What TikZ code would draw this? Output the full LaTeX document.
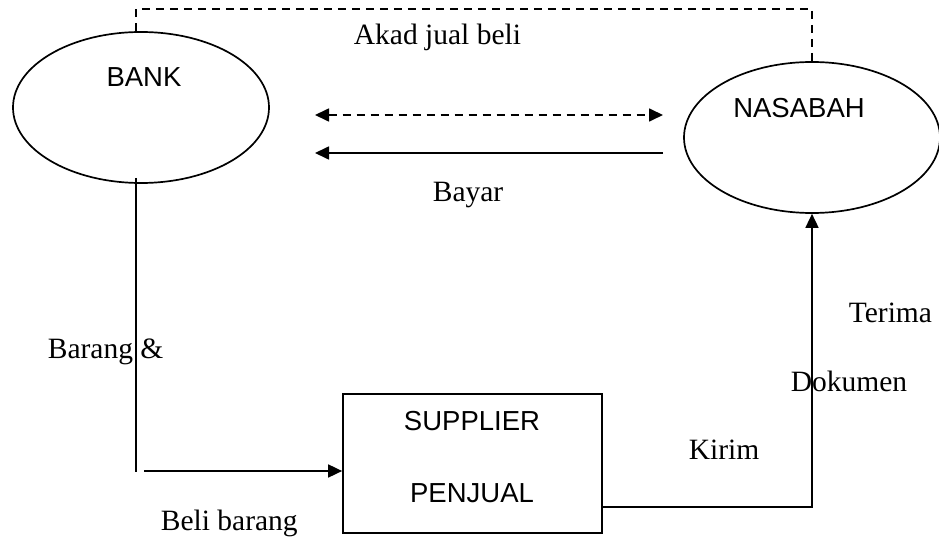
\documentclass[tikz,border=0pt]{standalone}
\usepackage{fontspec}
\setmainfont{Liberation Serif}
\newfontfamily\arialfont{Liberation Sans}
\usetikzlibrary{shapes.geometric,positioning,calc,arrows.meta}

\begin{document}
\begin{tikzpicture}[x=1pt, y=-1pt, line width=1.7pt,
    >={Triangle[length=14pt,width=13pt]},
    every node/.style={inner sep=0pt},
    party/.style={draw, ellipse, minimum width=256pt, minimum height=151pt},
    boxname/.style={font=\arialfont\fontsize{27.5}{32}\selectfont, anchor=base},
    flowtext/.style={font=\fontsize{29.5}{35}\selectfont, anchor=base west},
    dashline/.style={dash pattern=on 8pt off 6pt}]
            \useasboundingbox (0,0) rectangle (939,537);

            % Parties
            \node[party] (bank) at (141,107.5) {};
            \node[boxname] (bankText) at (144,87) {BANK};
            \node[party] (nasabah) at (812,137.5) {};
            \node[boxname] (nasabahText) at (799,118) {NASABAH};
            \node[draw, minimum width=259pt, minimum height=139pt] (supplier) at (472.5,463.5) {};
            \node[boxname] (supplierText) at (472,430) {SUPPLIER};
            \node[boxname] (penjualText) at (472,502) {PENJUAL};

            % Free ends
            \coordinate (akadTop) at (470,9);
            \coordinate (dashL) at (315,115);
            \coordinate (dashR) at (663,115);
            \coordinate (bayarL) at (315,153);
            \coordinate (bayarR) at (663,153);
            \coordinate (barangCorner) at (136,472);
            \coordinate (beliStart) at (144,471);

            % Connectors
            \draw[dashline] ([xshift=-5pt]bank.north) |- (akadTop) -| (nasabah.north);
            \draw[dashline, <->] (dashL) -- (dashR);
            \draw[->] (bayarR) -- (bayarL);
            \draw ([xshift=-5pt,yshift=6pt]bank.south) -- (barangCorner);
            \draw[->] (beliStart) -- (beliStart -| supplier.west);
            \draw[->] ([yshift=-43.5pt]supplier.east) -| (nasabah.south);

            % Labels
            \node[flowtext] (akad) at (353,45) {Akad jual beli};
            \node[flowtext] (bayar) at (432,202) {Bayar};
            \node[flowtext] (barang) at (47,358) {Barang \&};
            \node[flowtext] (beli) at (160,530) {Beli barang};
            \node[flowtext] (terima) at (848,322) {Terima};
            \node[flowtext] (dokumen) at (790,391) {Dokumen};
            \node[flowtext] (kirim) at (688,459) {Kirim};
        \end{tikzpicture}
\end{document}
